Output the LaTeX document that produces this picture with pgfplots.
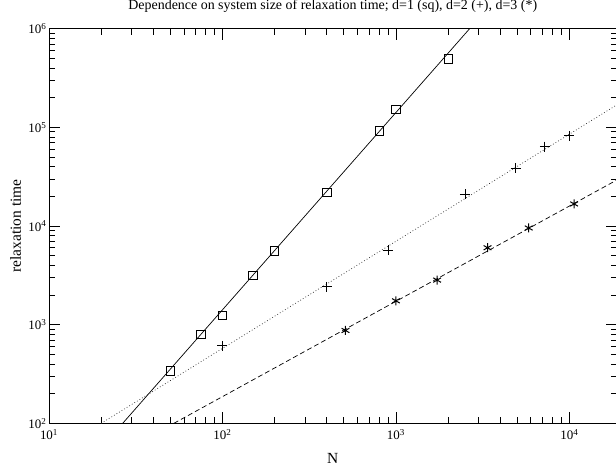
\documentclass[border=0pt]{standalone}
\usepackage{fontspec}
\setmainfont{Liberation Serif}
\usepackage{pgfplots}
\pgfplotsset{compat=1.18}
\begin{document}
\begin{tikzpicture}
\useasboundingbox (-49bp,-42.7bp) rectangle (567bp,423.3bp);
\begin{axis}[
  at={(0,0)}, anchor=south west,
  scale only axis, width=567.5bp, height=394.6bp,
  xmode=log, ymode=log,
  xmin=10, xmax=1.87e4, ymin=100, ymax=1e6,
  axis line style={black, line width=0.8bp},
  tick style={black, line width=0.8bp},
  major tick length=11bp, minor tick length=6bp,
  xtick={10,100,1000,10000},
  xticklabels={10\textsuperscript{1},10\textsuperscript{2},10\textsuperscript{3},10\textsuperscript{4}},
  ytick={100,1000,10000,100000,1000000},
  yticklabels={10\textsuperscript{2},10\textsuperscript{3},10\textsuperscript{4},10\textsuperscript{5},10\textsuperscript{6}},
  minor xtick={20,30,40,50,60,70,80,90,200,300,400,500,600,700,800,900,2000,3000,4000,5000,6000,7000,8000,9000},
  minor ytick={200,300,400,500,600,700,800,900,2000,3000,4000,5000,6000,7000,8000,9000,20000,30000,40000,50000,60000,70000,80000,90000,200000,300000,400000,500000,600000,700000,800000,900000},
  ticklabel style={font=\fontsize{13}{14}\selectfont},
  xticklabel style={yshift=-2.5bp},
  yticklabel style={xshift=1bp},
  title={Dependence on system size of relaxation time; d=1 (sq), d=2 (+), d=3 (*)},
  title style={font=\fontsize{14}{16}\selectfont, at={(axis description cs:0.5,1.041)}, anchor=center},
  xlabel={N},
  xlabel style={font=\fontsize{15.5}{17}\selectfont, at={(axis description cs:0.5,-0.0887)}, anchor=center},
  ylabel={relaxation time},
  ylabel style={font=\fontsize{15.5}{17}\selectfont, at={(axis description cs:-0.059,0.5)}, anchor=center, rotate=0},
  clip=true,
]
% d=1 fit line (solid)
\addplot[black, line width=0.7bp] coordinates {(20,56.5) (3000,1.272e6)};
% d=2 fit line (dotted)
\addplot[black!80, line width=0.7bp, dash pattern=on 0.8bp off 2.2bp] coordinates {(20,100) (20000,1.81e5)};
% d=3 fit line (dashed)
\addplot[black, line width=0.7bp, dash pattern=on 5bp off 3bp] coordinates {(52.5,100) (20000,3.11e4)};
% d=1 data
\addplot[only marks, mark=square, mark size=4.2bp, mark options={line width=0.8bp, black}] coordinates {
(50,340) (75,801) (100,1242) (150,3160) (200,5610) (400,21880) (800,92140) (1000,153000) (2000,492000)};
% d=2 data
\addplot[only marks, mark=+, mark size=5bp, mark options={line width=0.8bp, black}] coordinates {
(100,610) (400,2414) (900,5705) (2500,20980) (4900,38530) (7225,63830) (10000,81960)};
% d=3 data
\addplot[only marks, mark=asterisk, mark size=4.5bp, mark options={line width=1bp, black}] coordinates {
(512,873) (1000,1744) (1728,2830) (3375,6020) (5832,9544) (10648,16730)};
\end{axis}
\end{tikzpicture}
\end{document}
